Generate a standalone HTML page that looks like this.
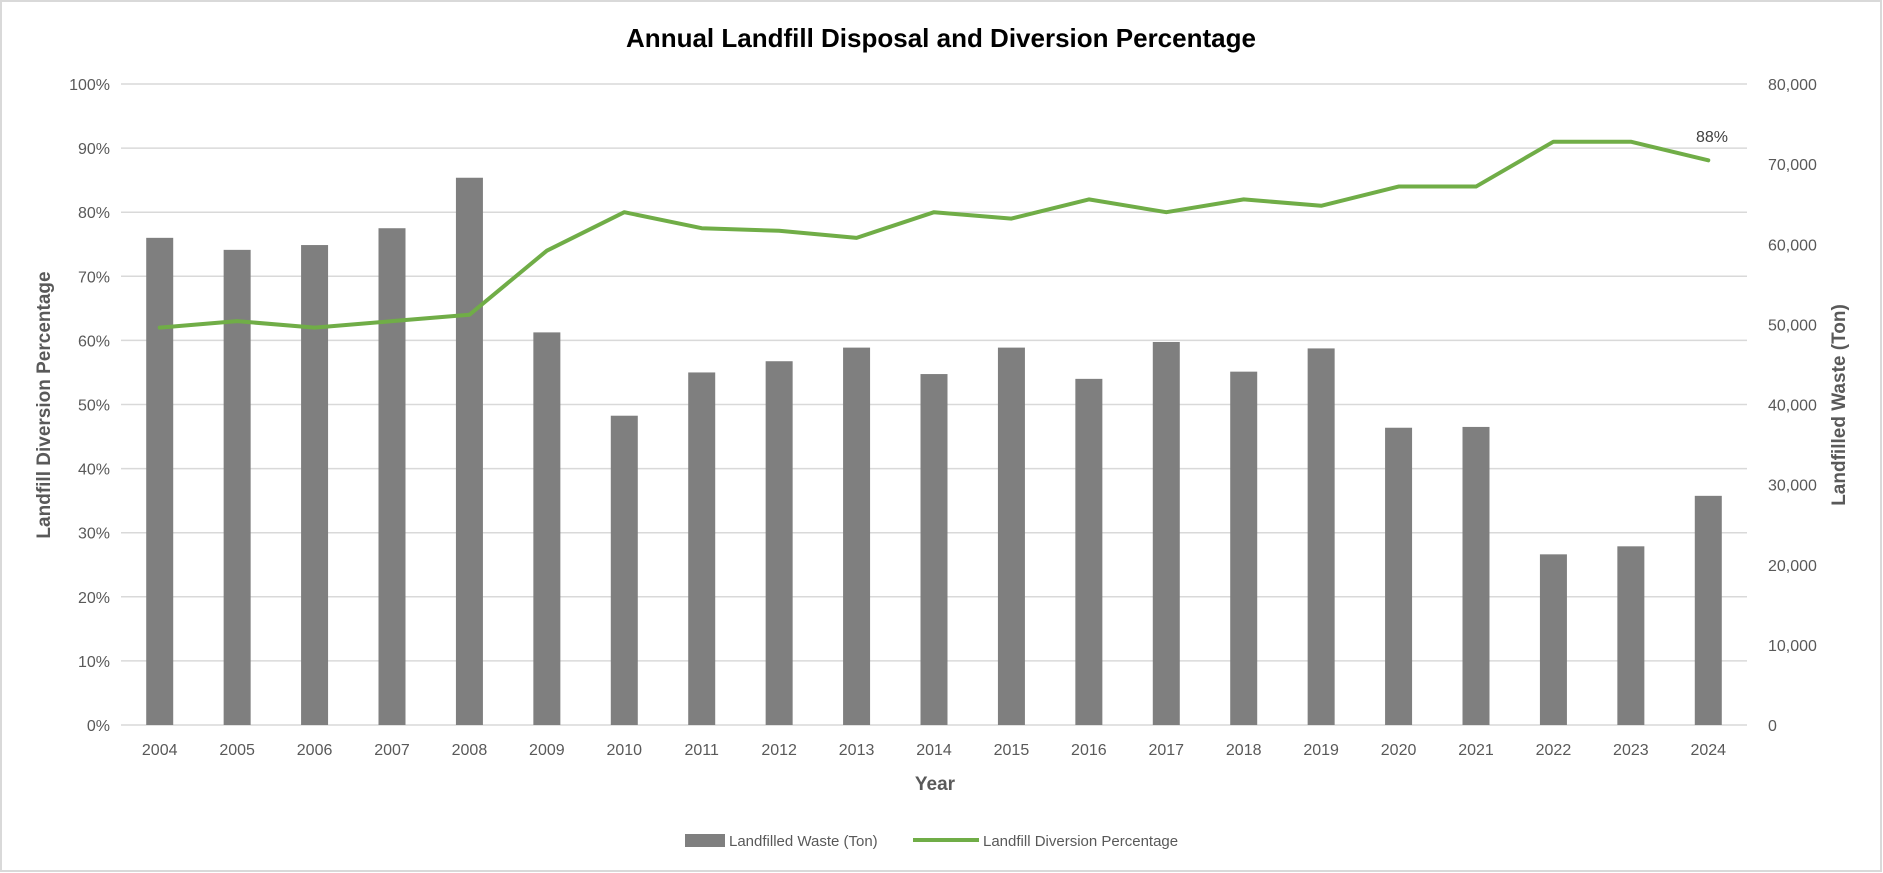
<!DOCTYPE html>
<html><head><meta charset="utf-8"><style>
html,body{margin:0;padding:0;background:#fff}
svg{display:block}
text{font-family:"Liberation Sans",sans-serif}
</style></head><body>
<svg width="1883" height="873" xmlns="http://www.w3.org/2000/svg">
<rect x="1" y="1" width="1880" height="870" fill="#fff" stroke="#d9d9d9" stroke-width="2"/>
<text x="941" y="47" text-anchor="middle" font-size="26" font-weight="bold" fill="#000">Annual Landfill Disposal and Diversion Percentage</text>
<g id="grid" stroke="#d9d9d9" stroke-width="1.5"></g>
<g id="bars" fill="#7f7f7f"></g>
<g id="ticks" font-size="16" fill="#595959"></g>
<polyline id="line" fill="none" stroke="#70ad47" stroke-width="4" stroke-linejoin="round" stroke-linecap="round"/>
<text x="1712" y="142" text-anchor="middle" font-size="16" fill="#404040">88%</text>
<text transform="translate(50,405) rotate(-90)" text-anchor="middle" font-size="19" font-weight="bold" fill="#595959">Landfill Diversion Percentage</text>
<text transform="translate(1845,405) rotate(-90)" text-anchor="middle" font-size="19" font-weight="bold" fill="#595959">Landfilled Waste (Ton)</text>
<text x="935" y="790" text-anchor="middle" font-size="19" font-weight="bold" fill="#595959">Year</text>
<rect x="685" y="834" width="40" height="13" fill="#7f7f7f"/>
<text x="729" y="846" font-size="15" fill="#595959">Landfilled Waste (Ton)</text>
<line x1="913" y1="840" x2="979" y2="840" stroke="#70ad47" stroke-width="4"/>
<text x="983" y="846" font-size="15" fill="#595959">Landfill Diversion Percentage</text>
</svg>
<script>
var L=121,R=1747,T=84,B=725,H=B-T,n=21,cw=(R-L)/n;
var bars=[60.8,59.3,59.9,62.0,68.3,49.0,38.6,44.0,45.4,47.1,43.8,47.1,43.2,47.8,44.1,47.0,37.1,37.2,21.3,22.3,28.6];
var pct=[62,63,62,63,64,74,80,77.5,77.1,76,80,79,82,80,82,81,84,84,91,91,88.1];
var ns="http://www.w3.org/2000/svg";
function el(t,a,p){var e=document.createElementNS(ns,t);for(var k in a)e.setAttribute(k,a[k]);document.getElementById(p).appendChild(e);return e;}
for(var i=0;i<=10;i++){var y=B-H*i/10;el('line',{x1:L,x2:R,y1:y,y2:y},'grid');
 var t=el('text',{x:L-11,y:y+6,'text-anchor':'end'},'ticks');t.textContent=(i*10)+'%';}
for(var i=0;i<=8;i++){var y=B-H*i/8;var t=el('text',{x:1768,y:y+6},'ticks');t.textContent=i==0?'0':(i*10)+',000';}
var pts=[];
for(var i=0;i<n;i++){var cx=L+cw*(i+0.5);var h=bars[i]/80*H;
 el('rect',{x:cx-13.5,y:B-h,width:27,height:h},'bars');
 var t=el('text',{x:cx,y:B+30,'text-anchor':'middle'},'ticks');t.textContent=2004+i;
 pts.push(cx+','+(B-pct[i]/100*H));}
document.getElementById('line').setAttribute('points',pts.join(' '));
</script>
</body></html>
